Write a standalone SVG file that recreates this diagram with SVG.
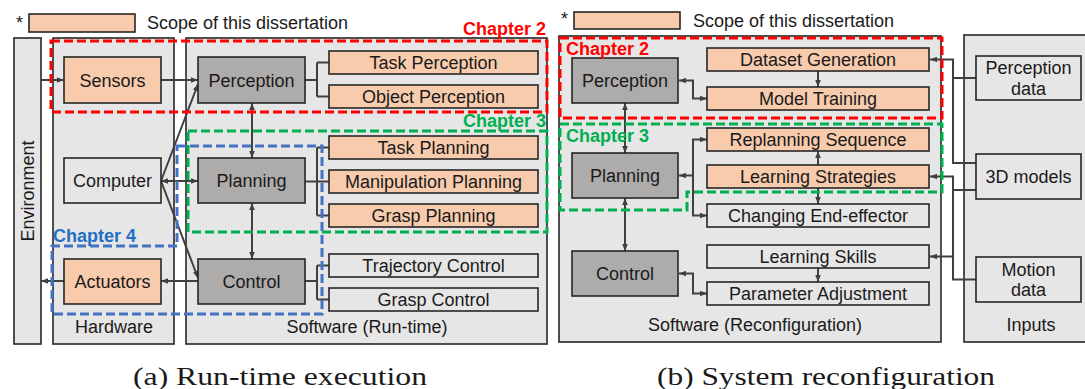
<svg xmlns="http://www.w3.org/2000/svg" width="1085" height="389" viewBox="0 0 1085 389">
  <style>
    .panel { fill: #E7E6E6; stroke: #262626; stroke-width: 1.6; }
    .scope { fill: #F8CBAD; stroke: #262626; stroke-width: 1.6; }
    .core  { fill: #AEABAB; stroke: #262626; stroke-width: 1.6; }
    .plain { fill: #E7E6E6; stroke: #262626; stroke-width: 1.6; }
    .lbl { font-family: "Liberation Sans", Arial, sans-serif; font-size: 18px; fill: #1a1a1a; text-anchor: middle; }
    .note { font-family: "Liberation Sans", Arial, sans-serif; font-size: 18px; fill: #1a1a1a; }
    .chap { font-family: "Liberation Sans", Arial, sans-serif; font-size: 18px; font-weight: bold; }
    .cap { font-family: "Liberation Serif", "Times New Roman", serif; font-size: 26px; fill: #1a1a1a; }
    .conn { fill: none; stroke: #404040; stroke-width: 2; }
    .ch2 { fill: none; stroke: #FF0000; stroke-width: 3; stroke-dasharray: 9 4; }
    .ch3 { fill: none; stroke: #00B050; stroke-width: 3; stroke-dasharray: 9 4; }
    .ch4 { fill: none; stroke: #4472C4; stroke-width: 3; stroke-dasharray: 9 4; }
  </style>
  <defs>
    <marker id="ah" viewBox="0 0 10 8" refX="10" refY="4" markerWidth="3.5" markerHeight="3" orient="auto-start-reverse">
      <path d="M0,0 L10,4 L0,8 z" fill="#404040"/>
    </marker>
  </defs>

  <rect width="1085" height="389" fill="#ffffff"/>

  <!-- legend, run-time side -->
  <g id="legend-a">
    <text class="note" x="16" y="29">*</text>
    <rect class="scope" x="29" y="14" width="106" height="18"/>
    <text class="note" x="147" y="29">Scope of this dissertation</text>
  </g>

  <!-- panels, run-time side -->
  <g id="environment">
    <rect class="panel" x="14" y="38" width="27" height="306"/>
    <text class="lbl" transform="translate(34 191) rotate(-90)">Environment</text>
  </g>
  <g id="hardware">
    <rect class="panel" x="53" y="38" width="121" height="306"/>
    <text class="lbl" x="114" y="333">Hardware</text>
  </g>
  <g id="software-runtime">
    <rect class="panel" x="186" y="38" width="361" height="306"/>
    <text class="lbl" x="367" y="333">Software (Run-time)</text>
  </g>

  <!-- panels, reconfiguration side -->
  <g id="legend-b">
    <text class="note" x="561" y="25">*</text>
    <rect class="scope" x="574" y="12" width="106" height="17"/>
    <text class="note" x="693" y="27">Scope of this dissertation</text>
  </g>
  <g id="software-reconfig">
    <rect class="panel" x="559" y="36" width="382" height="306"/>
    <text class="lbl" x="755" y="331">Software (Reconfiguration)</text>
  </g>
  <g id="inputs">
    <rect class="panel" x="964" y="35" width="130" height="307"/>
    <text class="lbl" x="1031" y="331">Inputs</text>
  </g>

  <!-- connectors -->
  <g id="connectors" class="conn">
    <!-- run-time -->
    <path d="M41 80 H64" marker-end="url(#ah)"/>
    <path d="M161 80 H198" marker-end="url(#ah)"/>
    <path d="M161 181 H198" marker-start="url(#ah)" marker-end="url(#ah)"/>
    <path d="M161 181 L198 84" marker-end="url(#ah)"/>
    <path d="M161 181 L198 278" marker-end="url(#ah)"/>
    <path d="M252 103 V158" marker-start="url(#ah)" marker-end="url(#ah)"/>
    <path d="M252 203 V259" marker-start="url(#ah)" marker-end="url(#ah)"/>
    <path d="M198 281 H161" marker-end="url(#ah)"/>
    <path d="M64 281 H41" marker-end="url(#ah)"/>
    <path d="M305 80 H317 M317 62.5 V96.5 M317 62.5 H329 M317 96.5 H329"/>
    <path d="M305 181.5 H317 M317 147.5 V215.5 M317 147.5 H329 M317 181.5 H329 M317 215.5 H329"/>
    <path d="M305 281 H317 M317 265.5 V299.5 M317 265.5 H329 M317 299.5 H329"/>
    <!-- reconfiguration -->
    <path d="M625 103 V153" marker-start="url(#ah)" marker-end="url(#ah)"/>
    <path d="M625 198 V251" marker-start="url(#ah)" marker-end="url(#ah)"/>
    <path d="M818 71 V87" marker-end="url(#ah)"/>
    <path d="M818 165 V151" marker-end="url(#ah)"/>
    <path d="M818 188 V204" marker-end="url(#ah)"/>
    <path d="M818 268 V282" marker-end="url(#ah)"/>
    <path d="M679 80.5 H693 V98.5 H707" marker-start="url(#ah)" marker-end="url(#ah)"/>
    <path d="M693 175.5 H679" marker-end="url(#ah)"/>
    <path d="M707 139.5 H693 V215.5 H707" marker-start="url(#ah)" marker-end="url(#ah)"/>
    <path d="M679 273.5 H693 V293.5 H707" marker-start="url(#ah)" marker-end="url(#ah)"/>
    <path d="M930 59.5 H953 V163 H976" marker-start="url(#ah)"/>
    <path d="M976 78 H953"/>
    <path d="M930 176.5 H953 V279.5 H976" marker-start="url(#ah)"/>
    <path d="M976 190 H953"/>
    <path d="M953 256.5 H930" marker-end="url(#ah)"/>
  </g>

  <!-- run-time nodes -->
  <g id="sensors"><rect class="scope" x="64" y="57" width="97" height="46"/><text class="lbl" x="112.5" y="86.5">Sensors</text></g>
  <g id="computer"><rect class="plain" x="64" y="158" width="97" height="45"/><text class="lbl" x="112.5" y="187">Computer</text></g>
  <g id="actuators"><rect class="scope" x="64" y="259" width="97" height="45"/><text class="lbl" x="112.5" y="288">Actuators</text></g>
  <g id="perception-a"><rect class="core" x="198" y="57" width="107" height="46"/><text class="lbl" x="251.5" y="86.5">Perception</text></g>
  <g id="planning-a"><rect class="core" x="198" y="158" width="107" height="45"/><text class="lbl" x="251.5" y="187">Planning</text></g>
  <g id="control-a"><rect class="core" x="198" y="259" width="107" height="45"/><text class="lbl" x="251.5" y="288">Control</text></g>
  <g id="task-perception"><rect class="scope" x="329" y="51" width="209" height="23"/><text class="lbl" x="433.5" y="69">Task Perception</text></g>
  <g id="object-perception"><rect class="scope" x="329" y="85" width="209" height="23"/><text class="lbl" x="433.5" y="103">Object Perception</text></g>
  <g id="task-planning"><rect class="scope" x="329" y="136" width="209" height="23"/><text class="lbl" x="433.5" y="154">Task Planning</text></g>
  <g id="manipulation-planning"><rect class="scope" x="329" y="170" width="209" height="23"/><text class="lbl" x="433.5" y="188">Manipulation Planning</text></g>
  <g id="grasp-planning"><rect class="scope" x="329" y="204" width="209" height="23"/><text class="lbl" x="433.5" y="222">Grasp Planning</text></g>
  <g id="trajectory-control"><rect class="plain" x="329" y="254" width="209" height="23"/><text class="lbl" x="433.5" y="272">Trajectory Control</text></g>
  <g id="grasp-control"><rect class="plain" x="329" y="288" width="209" height="23"/><text class="lbl" x="433.5" y="306">Grasp Control</text></g>

  <!-- reconfiguration nodes -->
  <g id="perception-b"><rect class="core" x="572" y="58" width="106" height="45"/><text class="lbl" x="625" y="87">Perception</text></g>
  <g id="planning-b"><rect class="core" x="572" y="153" width="106" height="45"/><text class="lbl" x="625" y="182">Planning</text></g>
  <g id="control-b"><rect class="core" x="572" y="251" width="106" height="45"/><text class="lbl" x="625" y="280">Control</text></g>
  <g id="dataset-generation"><rect class="scope" x="707" y="48" width="222" height="23"/><text class="lbl" x="818" y="66">Dataset Generation</text></g>
  <g id="model-training"><rect class="scope" x="707" y="87" width="222" height="23"/><text class="lbl" x="818" y="105">Model Training</text></g>
  <g id="replanning-sequence"><rect class="scope" x="707" y="128" width="222" height="23"/><text class="lbl" x="818" y="146">Replanning Sequence</text></g>
  <g id="learning-strategies"><rect class="scope" x="707" y="165" width="222" height="23"/><text class="lbl" x="818" y="183">Learning Strategies</text></g>
  <g id="changing-end-effector"><rect class="plain" x="707" y="204" width="222" height="23"/><text class="lbl" x="818" y="222">Changing End-effector</text></g>
  <g id="learning-skills"><rect class="plain" x="707" y="245" width="222" height="23"/><text class="lbl" x="818" y="263">Learning Skills</text></g>
  <g id="parameter-adjustment"><rect class="plain" x="707" y="282" width="222" height="23"/><text class="lbl" x="818" y="300">Parameter Adjustment</text></g>
  <g id="perception-data"><rect class="plain" x="976" y="56" width="105" height="44"/><text class="lbl" x="1028.5" y="74">Perception</text><text class="lbl" x="1028.5" y="95">data</text></g>
  <g id="models-3d"><rect class="plain" x="976" y="154" width="105" height="45"/><text class="lbl" x="1028.5" y="183">3D models</text></g>
  <g id="motion-data"><rect class="plain" x="976" y="257" width="105" height="45"/><text class="lbl" x="1028.5" y="276">Motion</text><text class="lbl" x="1028.5" y="296">data</text></g>

  <!-- chapter scopes -->
  <g id="chapters">
    <rect class="ch2" x="51" y="41" width="496" height="71"/>
    <rect class="ch3" x="188" y="131" width="359" height="101"/>
    <path class="ch4" d="M177 146 H322 V314 H52 V246 H177 Z"/>
    <rect class="ch2" x="560" y="38" width="382" height="80"/>
    <path class="ch3" d="M560 124 H942 V192 H687 V210 H560 Z"/>
    <text class="chap" x="546" y="35" text-anchor="end" fill="#FF0000">Chapter 2</text>
    <text class="chap" x="546" y="127" text-anchor="end" fill="#00B050">Chapter 3</text>
    <text class="chap" x="53" y="242" fill="#1F70C4">Chapter 4</text>
    <text class="chap" x="566" y="55" fill="#FF0000">Chapter 2</text>
    <text class="chap" x="566" y="142" fill="#00B050">Chapter 3</text>
  </g>

  <!-- sub-figure captions -->
  <text class="cap" x="133" y="385" textLength="294" lengthAdjust="spacingAndGlyphs">(a) Run-time execution</text>
  <text class="cap" x="657" y="385" textLength="338" lengthAdjust="spacingAndGlyphs">(b) System reconfiguration</text>
</svg>
